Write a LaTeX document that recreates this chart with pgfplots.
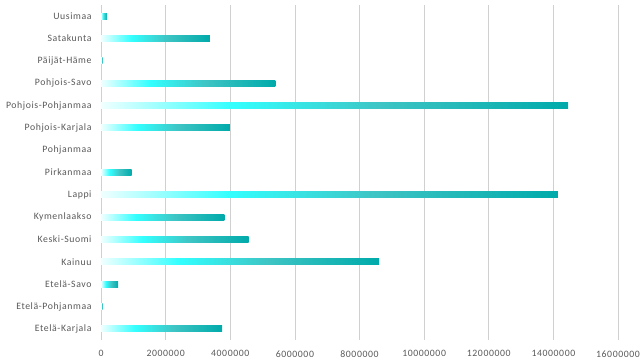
\documentclass[border=0pt]{standalone}
\usepackage{pgfplots}
\pgfplotsset{compat=1.18}
\usepackage{fontspec}
\setmainfont{Carlito}[LetterSpace=6]
\definecolor{lblgray}{RGB}{89,89,89}
\definecolor{gridgray}{RGB}{208,208,208}
\definecolor{c0}{RGB}{240,255,255}
\definecolor{c1}{RGB}{51,255,255}
\definecolor{c2}{RGB}{62,196,196}
\definecolor{c3}{RGB}{0,170,170}
\pgfdeclarehorizontalshading{barshade}{100bp}{color(0bp)=(c0); color(25bp)=(c0); color(39bp)=(c1); color(55bp)=(c2); color(75bp)=(c3); color(100bp)=(c3)}
\begin{document}
\begin{tikzpicture}
\begin{axis}[
  scale only axis,
  width=517bp, height=335bp,
  xmin=0, xmax=16000000,
  ymin=-0.5, ymax=14.5,
  xtick={0,2000000,4000000,6000000,8000000,10000000,12000000,14000000,16000000},
  xticklabels={0,2000000,4000000,6000000,8000000,10000000,12000000,14000000,16000000},
  ytick={0,...,14},
  yticklabels={Etelä-Karjala,Etelä-Pohjanmaa,Etelä-Savo,Kainuu,Keski-Suomi,Kymenlaakso,Lappi,Pirkanmaa,Pohjanmaa,Pohjois-Karjala,Pohjois-Pohjanmaa,Pohjois-Savo,Päijät-Häme,Satakunta,Uusimaa},
  scaled x ticks=false,
  ticklabel style={font=\fontsize{9.8}{11}\selectfont, text=lblgray},
  major tick length=0pt,
  xmajorgrids, grid style={gridgray, line width=0.75pt},
  axis lines*=left,
  y axis line style={gridgray, line width=0.75pt, -},
  x axis line style={draw=none},
  xtick style={draw=none}, ytick style={draw=none},
  xticklabel style={yshift=-7bp},
  yticklabel style={xshift=-6bp},
  clip=false,
  mybar/.style={xbar, bar width=6bp, bar shift=0pt, draw=none, shading=barshade},
]
\addplot[mybar] coordinates {(3750000,0)};
\addplot[mybar] coordinates {(50000,1)};
\addplot[mybar] coordinates {(530000,2)};
\addplot[mybar] coordinates {(8610000,3)};
\addplot[mybar] coordinates {(4570000,4)};
\addplot[mybar] coordinates {(3820000,5)};
\addplot[mybar] coordinates {(14140000,6)};
\addplot[mybar] coordinates {(950000,7)};
\addplot[xbar, bar width=6bp, bar shift=0pt, draw=none, fill=none] coordinates {(0,8)};
\addplot[mybar] coordinates {(3990000,9)};
\addplot[mybar] coordinates {(14460000,10)};
\addplot[mybar] coordinates {(5400000,11)};
\addplot[mybar] coordinates {(50000,12)};
\addplot[mybar] coordinates {(3370000,13)};
\addplot[mybar] coordinates {(190000,14)};
\coordinate (o) at (rel axis cs:0,0);
\end{axis}
\pgfresetboundingbox
\path[use as bounding box] (o) ++(-101bp,-21bp) rectangle ++(642bp,361bp);
\end{tikzpicture}
\end{document}
